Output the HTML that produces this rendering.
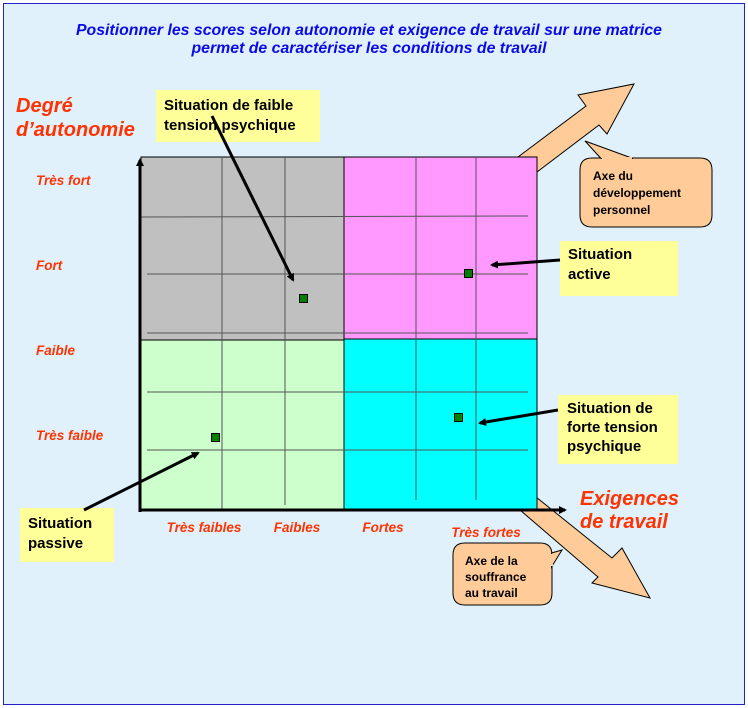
<!DOCTYPE html>
<html><head><meta charset="utf-8"><style>
html,body{margin:0;padding:0;background:#fff;}
svg{display:block;font-family:"Liberation Sans",Arial,sans-serif;}
</style></head><body>
<svg width="748" height="708" viewBox="0 0 748 708" xmlns="http://www.w3.org/2000/svg">
<defs>
<marker id="ah" markerWidth="8" markerHeight="8" refX="6" refY="4" orient="auto" markerUnits="userSpaceOnUse"><path d="M0,0 L8,4 L0,8 Z" fill="#000"/></marker>
</defs>
<rect x="3.5" y="3.5" width="741" height="701" fill="#E1F1FC" stroke="#2222CC" stroke-width="1"/>
<g font-weight="bold" font-style="italic" fill="#0A0AE6" font-size="15.5" text-anchor="middle">
<text x="369" y="35" textLength="586" lengthAdjust="spacingAndGlyphs">Positionner les scores selon autonomie et exigence de travail sur une matrice</text>
<text x="369" y="53" textLength="355" lengthAdjust="spacingAndGlyphs">permet de caractériser les conditions de travail</text>
</g>
<polygon points="518,157 586,106 578,95 634,84 607,134 599,125 537,172" fill="#FFCC99" stroke="#000" stroke-width="1"/>
<polygon points="536,497 612,558 622,548 650,598 592,583 598,577 520,510" fill="#FFCC99" stroke="#000" stroke-width="1"/>
<rect x="141" y="157" width="203" height="183" fill="#C0C0C0" stroke="#000"/>
<rect x="344" y="157" width="193" height="182" fill="#FF99FF" stroke="#000"/>
<rect x="141" y="340" width="203" height="170" fill="#CCFFCC" stroke="#000"/>
<rect x="344" y="339" width="193" height="171" fill="#00FFFF" stroke="#000"/>
<g stroke="#555" stroke-width="1">
<line x1="222" y1="157" x2="222" y2="510"/><line x1="285" y1="157" x2="285" y2="505"/>
<line x1="416" y1="157" x2="416" y2="500"/><line x1="476" y1="157" x2="476" y2="500"/>
<line x1="141" y1="217" x2="528" y2="216"/><line x1="147" y1="274" x2="528" y2="274"/><line x1="147" y1="333" x2="528" y2="333"/>
<line x1="147" y1="392" x2="528" y2="392"/><line x1="147" y1="450" x2="528" y2="450"/>
</g>
<line x1="140" y1="512" x2="140" y2="160" stroke="#000" stroke-width="3" marker-end="url(#ah)"/>
<line x1="139" y1="510" x2="565" y2="510" stroke="#000" stroke-width="3" marker-end="url(#ah)"/>
<path d="M592,158 H700 Q712,158 712,170 V215 Q712,227 700,227 H592 Q580,227 580,215 V170 Q580,158 592,158 Z" fill="#FFCC99" stroke="#000"/>
<polygon points="601,158.5 585,141 633,158.5" fill="#FFCC99" stroke="#000"/>
<line x1="602" y1="158" x2="632" y2="158" stroke="#FFCC99" stroke-width="2"/>
<path d="M465,543 H540 Q552,543 552,555 V593 Q552,605 540,605 H465 Q453,605 453,593 V555 Q453,543 465,543 Z" fill="#FFCC99" stroke="#000"/>
<polygon points="551.5,553 562,550 551.5,567" fill="#FFCC99" stroke="#000"/>
<line x1="552" y1="554" x2="552" y2="566" stroke="#FFCC99" stroke-width="2"/>
<g font-weight="bold" font-size="12" fill="#000">
<text x="593" y="180">Axe du</text><text x="593" y="197">développement</text><text x="593" y="214">personnel</text>
<text x="465" y="565">Axe de la</text><text x="465" y="581">souffrance</text><text x="465" y="597">au travail</text>
</g>
<g fill="#FFFF99">
<rect x="156" y="90" width="164" height="52"/>
<rect x="560" y="241" width="118" height="55"/>
<rect x="558" y="395" width="120" height="69"/>
<rect x="20" y="508" width="94" height="54"/>
</g>
<g font-weight="bold" font-size="15" fill="#000">
<text x="164" y="110">Situation de faible</text><text x="164" y="130">tension psychique</text>
<text x="568" y="259">Situation</text><text x="568" y="279">active</text>
<text x="567" y="413">Situation de</text><text x="567" y="432">forte tension</text><text x="567" y="451">psychique</text>
<text x="28" y="528">Situation</text><text x="28" y="548">passive</text>
</g>
<g stroke="#000" stroke-width="3" marker-end="url(#ah)">
<line x1="212" y1="116" x2="293" y2="280"/>
<line x1="560" y1="260" x2="492" y2="265"/>
<line x1="558" y1="410" x2="480" y2="423"/>
<line x1="84" y1="510" x2="198" y2="453"/>
</g>
<g fill="#008000" stroke="#000">
<rect x="299.5" y="294.5" width="8" height="8"/>
<rect x="464.5" y="269.5" width="8" height="8"/>
<rect x="454.5" y="413.5" width="8" height="8"/>
<rect x="211.5" y="433.5" width="8" height="8"/>
</g>
<g font-weight="bold" font-style="italic" fill="#FF3300">
<text x="16" y="112" font-size="20">Degré</text>
<text x="16" y="136" font-size="20">d’autonomie</text>
<text x="580" y="505" font-size="20">Exigences</text>
<text x="580" y="528" font-size="20">de travail</text>
<g font-size="13.5">
<text x="36" y="185">Très fort</text>
<text x="36" y="270">Fort</text>
<text x="36" y="355">Faible</text>
<text x="36" y="440">Très faible</text>
<text x="204" y="532" text-anchor="middle">Très faibles</text>
<text x="297" y="532" text-anchor="middle">Faibles</text>
<text x="383" y="532" text-anchor="middle">Fortes</text>
<text x="486" y="537" text-anchor="middle">Très fortes</text>
</g>
</g>
</svg>
</body></html>
